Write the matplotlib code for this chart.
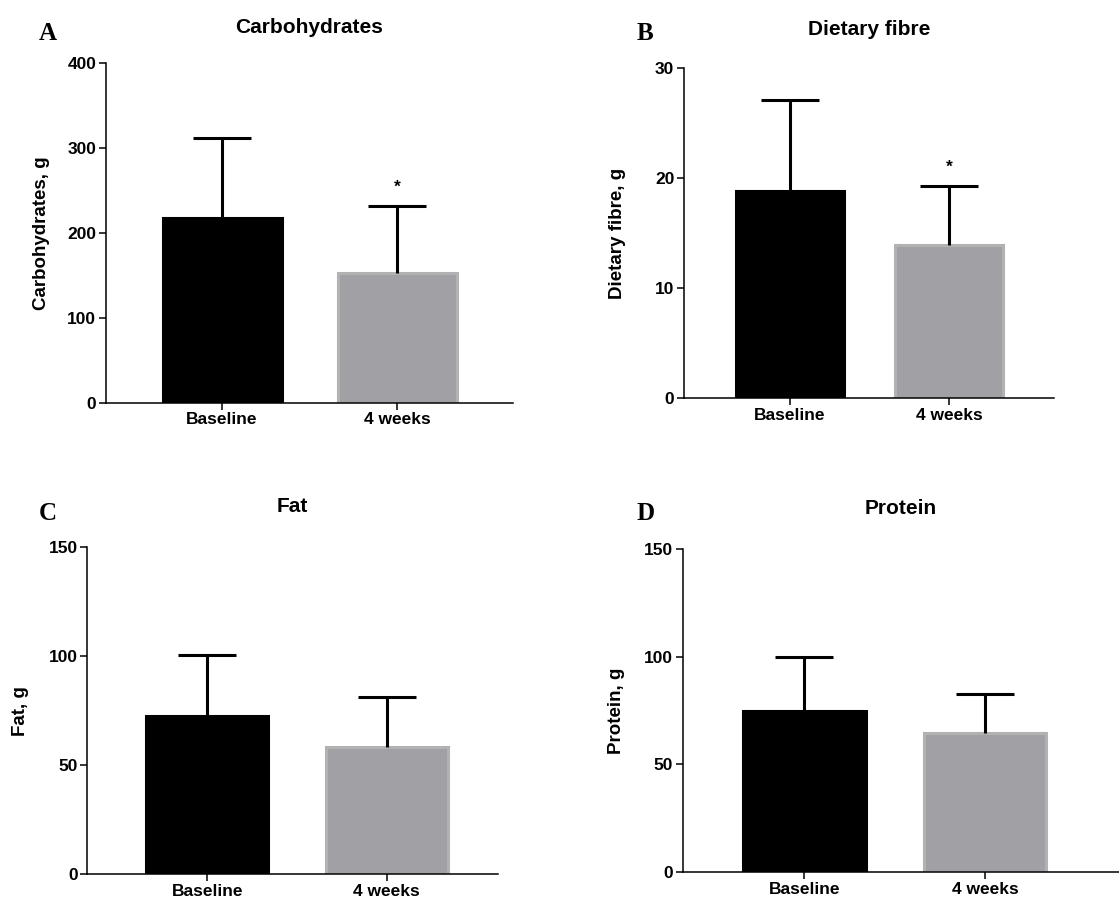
import matplotlib
matplotlib.use('Agg')
import matplotlib.pyplot as plt

# Mean daily intake with SD, baseline vs after 4 weeks
groups = ['Baseline', '4 weeks']

carb_mean = [217, 153]
carb_sd = [94, 78]

fibre_mean = [18.8, 13.9]
fibre_sd = [8.3, 5.4]

fat_mean = [72.5, 58.4]
fat_sd = [28.0, 22.7]

protein_mean = [74.8, 64.6]
protein_sd = [25.0, 18.0]

titles = ['Carbohydrates', 'Dietary fibre', 'Fat', 'Protein']
ylabels = ['Carbohydrates, g', 'Dietary fibre, g', 'Fat, g', 'Protein, g']
letters = ['A', 'B', 'C', 'D']
ymax = [400, 30, 150, 150]
ystep = [100, 10, 50, 50]
significant = [True, True, False, False]

means = [carb_mean, fibre_mean, fat_mean, protein_mean]
sds = [carb_sd, fibre_sd, fat_sd, protein_sd]

W, H = 1119, 900
fig = plt.figure(figsize=(W / 100, H / 100), dpi=100)

# axes boxes in pixels: left, top, right, bottom
boxes = [(106, 62.7, 512.7, 402.7),
         (684, 67.7, 1054, 398.3),
         (87.3, 547.3, 497.7, 874),
         (682.7, 549.3, 1119, 872)]
xlims = [(-0.663, 1.661), (-0.667, 1.66), (-0.669, 1.619), (-0.673, 1.742)]
title_pads = [21.5, 23.5, 25.5, 25.5]
ylabel_x = [50, 626, 29, 625]
letter_pos = [(48, 33), (645, 33), (48, 513), (646, 513)]

bar_colors = ['black', '#a1a0a5']
edge_colors = ['black', '#b2b2b2']

sans = 'Liberation Sans'

for i in range(4):
    l, t, r, b = boxes[i]
    ax = fig.add_axes([l / W, 1 - b / H, (r - l) / W, (b - t) / H])
    x = [0, 1]
    ax.bar(x, means[i], width=0.68, color=bar_colors,
           edgecolor=edge_colors, linewidth=2.2, zorder=2)
    eb = ax.errorbar(x, means[i], yerr=[[0, 0], sds[i]], fmt='none',
                     ecolor='black', elinewidth=2.2, capsize=21,
                     capthick=2.2, zorder=3)
    # upper whisker only: hide the caps sitting on the bar tops
    eb[1][0].set_visible(False)
    if significant[i]:
        ax.annotate('*', xy=(1, means[i][1] + sds[i][1]),
                    xytext=(0, 8), textcoords='offset points',
                    ha='center', va='bottom', fontsize=12.5,
                    fontweight='bold', family=sans)

    ax.set_xlim(*xlims[i])
    ax.set_ylim(0, ymax[i])
    ax.set_yticks(range(0, ymax[i] + 1, ystep[i]))
    ax.set_xticks(x)
    ax.set_xticklabels(groups)

    for s in ['top', 'right']:
        ax.spines[s].set_visible(False)
    for s in ['left', 'bottom']:
        ax.spines[s].set_linewidth(1.1)
    ax.tick_params(axis='both', direction='out', length=5, width=1.1,
                   labelsize=12.5, pad=2)
    for lab in ax.get_xticklabels() + ax.get_yticklabels():
        lab.set_fontweight('bold')
        lab.set_family(sans)

    ax.set_title(titles[i], fontsize=15, fontweight='bold', family=sans,
                 pad=title_pads[i])
    ax.set_ylabel(ylabels[i], fontsize=13.5, fontweight='bold', family=sans)
    ax.yaxis.set_label_coords(ylabel_x[i] / W, 1 - (t + b) / 2 / H,
                              transform=fig.transFigure)

    lx, ly = letter_pos[i]
    fig.text(lx / W, 1 - ly / H, letters[i], fontsize=18, fontweight='bold',
             family='Liberation Serif', ha='center', va='center')

fig.savefig('out.png', dpi=100)
